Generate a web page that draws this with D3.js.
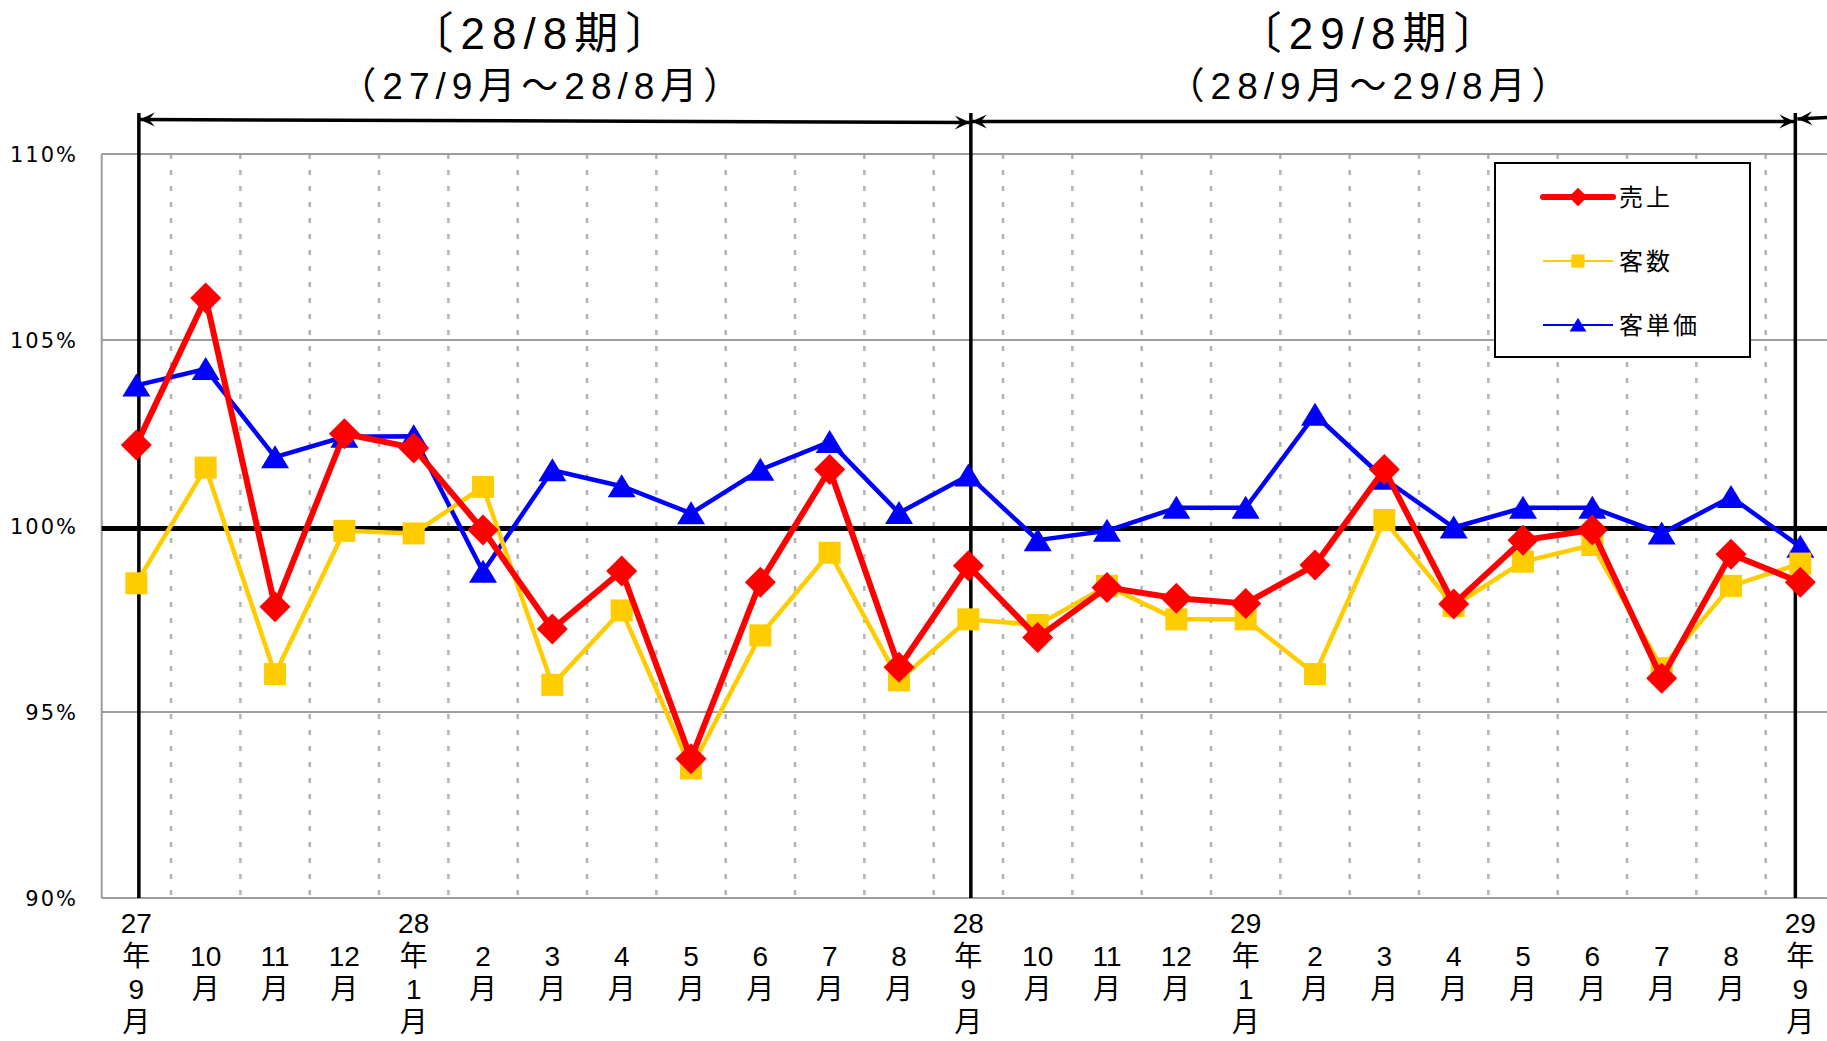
<!DOCTYPE html>
<html>
<head>
<meta charset="utf-8">
<script src="https://cdn.jsdelivr.net/npm/d3@7"></script>
<style>
  body { margin: 0; background: #fff; overflow: hidden; }
  text { font-family: "Liberation Sans", Arial, "Noto Sans CJK JP", sans-serif; fill: #000; }
</style>
</head>
<body>
<script>
// tick labels (months), one per category
var months = ['27年9月', '10月', '11月', '12月', '28年1月', '2月', '3月', '4月', '5月', '6月', '7月', '8月',
              '28年9月', '10月', '11月', '12月', '29年1月', '2月', '3月', '4月', '5月', '6月', '7月', '8月',
              '29年9月'];

// series values, % of previous year
var sales = [102.18, 106.13, 97.83, 102.48, 102.10, 99.89, 97.23, 98.79, 93.74, 98.49, 101.52, 96.20,
             98.93, 97.00, 98.35, 98.06, 97.92, 98.95, 101.52, 97.90, 99.62, 99.89, 95.91, 99.24, 98.49];
var customers = [98.46, 101.57, 96.02, 99.87, 99.80, 101.05, 95.73, 97.73, 93.48, 97.06, 99.28, 95.85,
                 97.49, 97.34, 98.39, 97.49, 97.49, 96.02, 100.16, 97.85, 99.04, 99.49, 96.18, 98.39, 98.99];
var unitPrice = [103.78, 104.22, 101.85, 102.40, 102.41, 98.77, 101.50, 101.07, 100.34, 101.51, 102.26, 100.35,
                 101.36, 99.62, 99.87, 100.49, 100.49, 102.99, 101.27, 99.96, 100.49, 100.49, 99.80, 100.78, 99.44];

var yTicks = [90, 95, 100, 105, 110];

// fiscal periods
var periodStart = [0, 12, 24];
var periodTitles = ['〔28/8期〕', '〔29/8期〕'];
var periodSubs = ['（27/9月～28/8月）', '（28/9月～29/8月）'];

var width = 1827,
    height = 1041,
    plotLeft = 101.7,
    plotRight = 1835,
    plotTop = 154,
    plotBottom = 898,
    arrowY = 121;

// the period lines were drawn by hand, a few px off the category centre
var periodNudge = [2.5, 2.5, -5];

var svg = d3.select('body').append('svg')
    .attr('width', width)
    .attr('height', height);

var x = d3.scaleBand()
    .domain(d3.range(months.length))
    .range([plotLeft, plotRight]);

var y = d3.scaleLinear()
    .domain([90, 110])
    .range([plotBottom, plotTop]);

function cx(i) {
    return x(i) + x.bandwidth() / 2;
}

function px(k) {
    return cx(periodStart[k]) + periodNudge[k];
}

// arrow heads
var defs = svg.append('defs');
defs.append('marker')
    .attr('id', 'head')
    .attr('viewBox', '-16 -8 18 16')
    .attr('refX', 0)
    .attr('refY', 0)
    .attr('markerWidth', 18)
    .attr('markerHeight', 16)
    .attr('markerUnits', 'userSpaceOnUse')
    .attr('orient', 'auto-start-reverse')
    .append('path')
    .attr('d', 'M0,0 L-15,-7 L-9,0 L-15,7 Z')
    .attr('fill', '#000');

// ****************** grid ***************************

var grid = svg.append('g');

// dotted verticals between months
grid.selectAll('line.vgrid')
    .data(d3.range(1, months.length))
    .enter().append('line')
    .attr('class', 'vgrid')
    .attr('x1', function (d) { return plotLeft + x.step() * d; })
    .attr('x2', function (d) { return plotLeft + x.step() * d; })
    .attr('y1', plotTop)
    .attr('y2', plotBottom)
    .attr('stroke', '#b4b4b4')
    .attr('stroke-width', 2.5)
    .attr('stroke-dasharray', '5,11');

grid.selectAll('line.hgrid')
    .data(yTicks.filter(function (d) { return d !== 100; }))
    .enter().append('line')
    .attr('class', 'hgrid')
    .attr('x1', plotLeft)
    .attr('x2', width)
    .attr('y1', function (d) { return y(d); })
    .attr('y2', function (d) { return y(d); })
    .attr('stroke', '#9c9c9c')
    .attr('stroke-width', 2);

grid.append('line')
    .attr('x1', plotLeft).attr('x2', plotLeft)
    .attr('y1', plotTop).attr('y2', plotBottom)
    .attr('stroke', '#9c9c9c')
    .attr('stroke-width', 2);

// y labels
svg.selectAll('text.ylab')
    .data(yTicks)
    .enter().append('text')
    .attr('class', 'ylab')
    .attr('x', 78)
    .attr('y', function (d) { return y(d) + 8; })
    .attr('text-anchor', 'end')
    .style('font-family', '"DejaVu Sans", sans-serif')
    .style('font-size', '21px')
    .style('letter-spacing', '2px')
    .text(function (d) { return d + '%'; });

// x labels, stacked vertically
var lineH = 33;
var xlab = svg.selectAll('g.xlab')
    .data(months)
    .enter().append('g')
    .attr('class', 'xlab')
    .attr('transform', function (d, i) { return 'translate(' + cx(i) + ',0)'; });

xlab.each(function (d) {
    var parts = d.match(/\d+|[^\d]/g);
    var top = 972 - (parts.length - 1) * lineH / 2;
    d3.select(this).selectAll('text')
        .data(parts)
        .enter().append('text')
        .attr('text-anchor', 'middle')
        .attr('y', function (p, j) { return top + j * lineH + 10; })
        .style('font-size', '28px')
        .text(function (p) { return p; });
});

// ****************** period marks ***************************

// 100% reference line
svg.append('line')
    .attr('x1', plotLeft)
    .attr('x2', width)
    .attr('y1', y(100) + 2.5)
    .attr('y2', y(100) + 2.5)
    .attr('stroke', '#000')
    .attr('stroke-width', 5);

svg.selectAll('line.period')
    .data(periodStart)
    .enter().append('line')
    .attr('class', 'period')
    .attr('x1', function (d, k) { return px(k); })
    .attr('x2', function (d, k) { return px(k); })
    .attr('y1', arrowY - 8)
    .attr('y2', plotBottom)
    .attr('stroke', '#000')
    .attr('stroke-width', 3.5);

// double arrows between period lines
var spans = periodStart.slice(0, -1).map(function (d, k) {
    return [k, k + 1];
});

svg.selectAll('line.span')
    .data(spans)
    .enter().append('line')
    .attr('class', 'span')
    .attr('x1', function (d) { return px(d[0]) + 1; })
    .attr('x2', function (d) { return px(d[1]) - 1; })
    .attr('y1', function (d, i) { return i === 0 ? arrowY - 1.5 : arrowY + 0.5; })
    .attr('y2', function (d, i) { return i === 0 ? arrowY + 1.5 : arrowY + 0.5; })
    .attr('stroke', '#000')
    .attr('stroke-width', 3.5)
    .attr('marker-start', 'url(#head)')
    .attr('marker-end', 'url(#head)');

// next period, cut off at the right edge
svg.append('line')
    .attr('x1', px(2) + 2)
    .attr('x2', width + 10)
    .attr('y1', arrowY - 2)
    .attr('y2', arrowY - 4)
    .attr('stroke', '#000')
    .attr('stroke-width', 3.5)
    .attr('marker-start', 'url(#head)');

// titles
spans.forEach(function (d, k) {
    var mid = (px(d[0]) + px(d[1])) / 2 - 12;
    svg.append('text')
        .attr('x', mid)
        .attr('y', 49)
        .attr('text-anchor', 'middle')
        .style('font-size', '44px')
        .style('letter-spacing', '7px')
        .text(periodTitles[k]);
    svg.append('text')
        .attr('x', mid)
        .attr('y', 99)
        .attr('text-anchor', 'middle')
        .style('font-size', '37px')
        .style('letter-spacing', '6px')
        .text(periodSubs[k]);
});

// ****************** series ***************************

var series = [
    { name: '客単価', values: unitPrice, color: '#0000ff', width: 4.5, legendWidth: 2,
      shape: 'M0,-12 L14,11 L-14,11 Z' },
    { name: '客数', values: customers, color: '#ffcc00', width: 4.5, legendWidth: 2,
      shape: 'M-11,-11 L11,-11 L11,11 L-11,11 Z' },
    { name: '売上', values: sales, color: '#ff0000', width: 6, legendWidth: 6,
      shape: 'M0,-15.5 L15.5,0 L0,15.5 L-15.5,0 Z' }
];

var line = d3.line()
    .x(function (d, i) { return cx(i); })
    .y(function (d) { return y(d); });

var sg = svg.selectAll('g.series')
    .data(series)
    .enter().append('g')
    .attr('class', 'series');

sg.append('path')
    .attr('d', function (s) { return line(s.values); })
    .attr('fill', 'none')
    .attr('stroke', function (s) { return s.color; })
    .attr('stroke-width', function (s) { return s.width; })
    .attr('stroke-linejoin', 'round');

sg.each(function (s) {
    d3.select(this).selectAll('path.pt')
        .data(s.values)
        .enter().append('path')
        .attr('class', 'pt')
        .attr('d', s.shape)
        .attr('transform', function (d, i) { return 'translate(' + cx(i) + ',' + y(d) + ')'; })
        .attr('fill', s.color);
});

// ****************** legend ***************************

var legend = svg.append('g')
    .attr('transform', 'translate(1495,163)');

legend.append('rect')
    .attr('width', 255)
    .attr('height', 194)
    .attr('fill', '#fff')
    .attr('stroke', '#000')
    .attr('stroke-width', 2);

var legendItems = series.slice().reverse();
var li = legend.selectAll('g.li')
    .data(legendItems)
    .enter().append('g')
    .attr('class', 'li')
    .attr('transform', function (d, i) { return 'translate(0,' + (34 + i * 64) + ')'; });

li.append('line')
    .attr('x1', 48).attr('x2', 118)
    .attr('stroke', function (d) { return d.color; })
    .attr('stroke-width', function (d) { return d.legendWidth; })
    .attr('stroke-linecap', function (d) { return d.legendWidth > 4 ? 'round' : 'butt'; });

li.append('path')
    .attr('d', function (d) { return d.shape; })
    .attr('transform', function (d) { return 'translate(83,0) scale(0.6)'; })
    .attr('fill', function (d) { return d.color; });

li.append('text')
    .attr('x', 124)
    .attr('y', 9)
    .style('font-family', '"Noto Sans CJK JP", sans-serif')
    .style('font-size', '24px')
    .style('letter-spacing', '3px')
    .text(function (d) { return d.name; });
</script>
</body>
</html>
